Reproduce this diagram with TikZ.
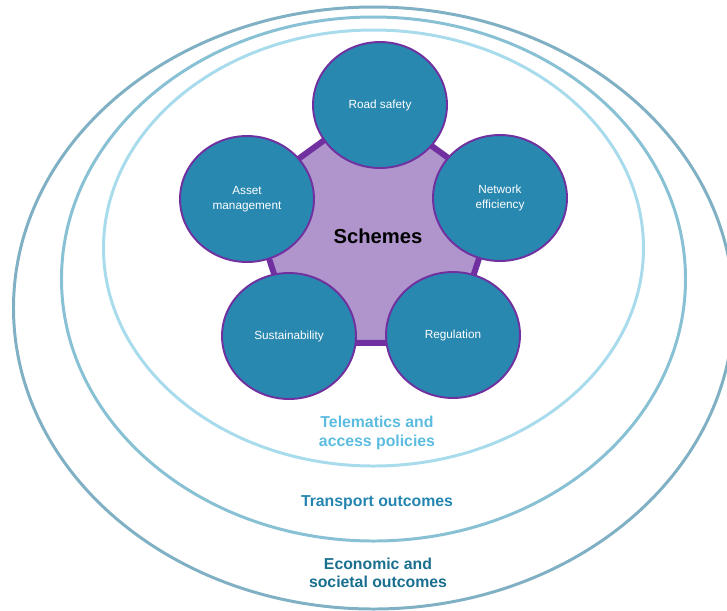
\documentclass[tikz,border=0pt]{standalone}
\usepackage{fontspec}
\setmainfont{Liberation Sans}
\usetikzlibrary{shapes.geometric}

\definecolor{ringOuter}{HTML}{80B0C4}
\definecolor{ringMid}{HTML}{88C0D4}
\definecolor{ringInner}{HTML}{A8DCEC}
\definecolor{themeFill}{HTML}{2888B0}
\definecolor{schemeLine}{HTML}{7030A0}
\definecolor{schemeFill}{HTML}{B095CC}
\definecolor{txtInner}{HTML}{5CBCE0}
\definecolor{txtMid}{HTML}{2486B0}
\definecolor{txtOuter}{HTML}{1A6E8E}

\tikzset{%
  ring/.style={line width=1.7pt},
  theme/.style={ellipse,draw=schemeLine,line width=1.1pt,fill=themeFill,
    minimum width=2.68cm,minimum height=2.52cm,inner sep=0pt,
    text=white,align=center,font=\fontsize{6.7}{8.2}\selectfont},
  ringlabel/.style={align=center,font=\fontsize{9}{10.4}\selectfont\bfseries}%
}

\begin{document}
\begin{tikzpicture}[x=0.02cm,y=-0.02cm] % one unit = one pixel, y downwards

    \useasboundingbox (0,0) rectangle (727,610);

    % nested outcome rings
    \draw[ring,ringOuter] (373.5,308) ellipse (360 and 301);
    \draw[ring,ringMid] (373.5,279) ellipse (312 and 262);
    \draw[ring,ringInner] (373.5,248) ellipse (270 and 218);

    % the schemes pentagon (angles run clockwise, y points down)
    \def\R{132} % circumradius
    \coordinate (P) at (374,236);
    \draw[shift={(P)},line width=3.4pt,draw=schemeLine,fill=schemeFill,line join=round]
        (-90:\R) -- (-18:\R) -- (54:\R) -- (126:\R) -- (198:\R) -- cycle;
    \node[font=\fontsize{11.5}{13}\selectfont\bfseries] (schemes) at (378,236) {Schemes};

    % the five themes
    \node[theme] (road) at (380,105) {Road safety};
    \node[theme] (asset) at (247,199) {Asset\\management};
    \node[theme] (network) at (500,198) {Network\\efficiency};
    \node[theme] (sustain) at (289,336) {Sustainability};
    \node[theme] (regul) at (453,335) {Regulation};

    % ring labels
    \node[ringlabel,text=txtInner] (telematics) at (377,433) {Telematics and\\access policies};
    \node[ringlabel,text=txtMid] (transport) at (377,503) {Transport outcomes};
    \node[ringlabel,text=txtOuter] (economic) at (378,573) {Economic and\\societal outcomes};

\end{tikzpicture}
\end{document}
